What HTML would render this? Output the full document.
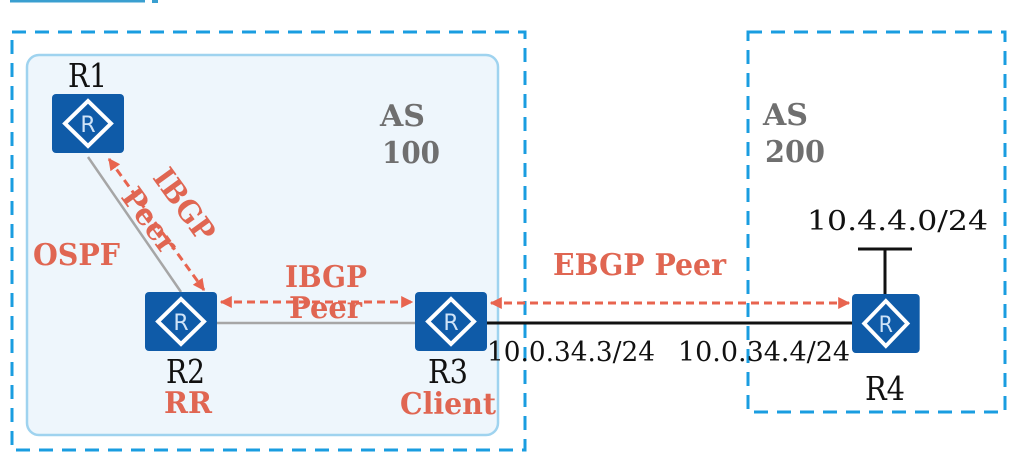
<!DOCTYPE html>
<html><head><meta charset="utf-8"><style>
html,body{margin:0;padding:0;background:#fff;width:1012px;height:456px;overflow:hidden}
svg text{font-family:"DejaVu Serif","Liberation Serif",serif}
</style></head><body>
<svg width="1012" height="456" viewBox="0 0 1012 456" xmlns="http://www.w3.org/2000/svg">
<defs>
<marker id="ah" viewBox="0 0 10 10" refX="9" refY="5" markerWidth="4" markerHeight="4" orient="auto-start-reverse">
<path d="M0,0 L10,5 L0,10 z" fill="#e8644f"/></marker>
<g id="rt">
<rect x="0" y="0" width="72" height="59" rx="4" fill="#0f5ba8"/>
<path d="M36,7 L59,29.5 L36,52 L13,29.5 Z" fill="none" stroke="#fff" stroke-width="4"/>
<text x="36" y="38" font-size="22" fill="#cfe3f7" text-anchor="middle" style="font-family:'DejaVu Sans',sans-serif">R</text>
</g>
</defs>
<line x1="10" y1="1" x2="145" y2="1" stroke="#3a9fd0" stroke-width="3"/>
<rect x="152" y="0" width="6" height="3" fill="#3a9fd0"/>
<rect x="12" y="32" width="513" height="418" fill="none" stroke="#1a9de0" stroke-width="3" stroke-dasharray="14,9"/>
<rect x="27" y="55" width="471" height="380" rx="12" fill="#eef6fc" stroke="#9fd3ef" stroke-width="2.5"/>
<rect x="748" y="32" width="257" height="380" fill="none" stroke="#1a9de0" stroke-width="3" stroke-dasharray="14,9"/>
<line x1="88" y1="157" x2="181" y2="292" stroke="#a6a6a6" stroke-width="2.5"/>
<line x1="217" y1="323" x2="415" y2="323" stroke="#a6a6a6" stroke-width="2.5"/>
<line x1="487" y1="323" x2="852" y2="323" stroke="#111" stroke-width="3"/>
<line x1="858" y1="249" x2="912" y2="249" stroke="#111" stroke-width="3"/>
<line x1="885" y1="249" x2="885" y2="294" stroke="#111" stroke-width="3"/>
<line x1="109" y1="159" x2="204" y2="290" stroke="#e8644f" stroke-width="3" stroke-dasharray="8,5" marker-start="url(#ah)" marker-end="url(#ah)"/>
<line x1="221" y1="302" x2="412" y2="302" stroke="#e8644f" stroke-width="3" stroke-dasharray="8,5" marker-start="url(#ah)" marker-end="url(#ah)"/>
<line x1="491" y1="303" x2="849" y2="303" stroke="#e8644f" stroke-width="3" stroke-dasharray="8,5" marker-start="url(#ah)" marker-end="url(#ah)"/>
<use href="#rt" x="52" y="94"/>
<use href="#rt" x="145" y="292"/>
<use href="#rt" x="415" y="292"/>
<use href="#rt" x="852" y="294" transform="translate(852,294) scale(0.94,1) translate(-852,-294)"/>
<g font-size="33" fill="#111" lengthAdjust="spacingAndGlyphs">
<text x="68" y="87" textLength="39" lengthAdjust="spacingAndGlyphs">R1</text>
<text x="166" y="383" textLength="39" lengthAdjust="spacingAndGlyphs">R2</text>
<text x="428" y="383" textLength="40" lengthAdjust="spacingAndGlyphs">R3</text>
<text x="865" y="400" textLength="40" lengthAdjust="spacingAndGlyphs">R4</text>
</g>
<g font-size="27" fill="#111">
<text x="807" y="230" textLength="181" lengthAdjust="spacingAndGlyphs">10.4.4.0/24</text>
<text x="487" y="361" textLength="168" lengthAdjust="spacingAndGlyphs">10.0.34.3/24</text>
<text x="678" y="361" textLength="172" lengthAdjust="spacingAndGlyphs">10.0.34.4/24</text>
</g>
<g font-size="30" font-weight="bold" fill="#6f6f6f">
<text x="380" y="126" textLength="45" lengthAdjust="spacingAndGlyphs">AS</text>
<text x="382" y="163" textLength="58" lengthAdjust="spacingAndGlyphs">100</text>
<text x="763" y="125" textLength="45" lengthAdjust="spacingAndGlyphs">AS</text>
<text x="765" y="162" textLength="60" lengthAdjust="spacingAndGlyphs">200</text>
</g>
<g font-size="30" font-weight="bold" fill="#e06652">
<text x="33" y="265" textLength="87" lengthAdjust="spacingAndGlyphs">OSPF</text>
<text x="285" y="287" textLength="82" lengthAdjust="spacingAndGlyphs">IBGP</text>
<text x="289" y="318" textLength="73" lengthAdjust="spacingAndGlyphs">Peer</text>
<text x="553" y="275" textLength="173" lengthAdjust="spacingAndGlyphs">EBGP Peer</text>
<text x="164" y="413" textLength="48" lengthAdjust="spacingAndGlyphs">RR</text>
<text x="400" y="414" textLength="96" lengthAdjust="spacingAndGlyphs">Client</text>
<text x="143" y="217" transform="rotate(54 186 206)" textLength="82" lengthAdjust="spacingAndGlyphs">IBGP</text>
<text x="113" y="231" transform="rotate(54 150 221)" textLength="73" lengthAdjust="spacingAndGlyphs">Peer</text>
</g>
</svg>
</body></html>
